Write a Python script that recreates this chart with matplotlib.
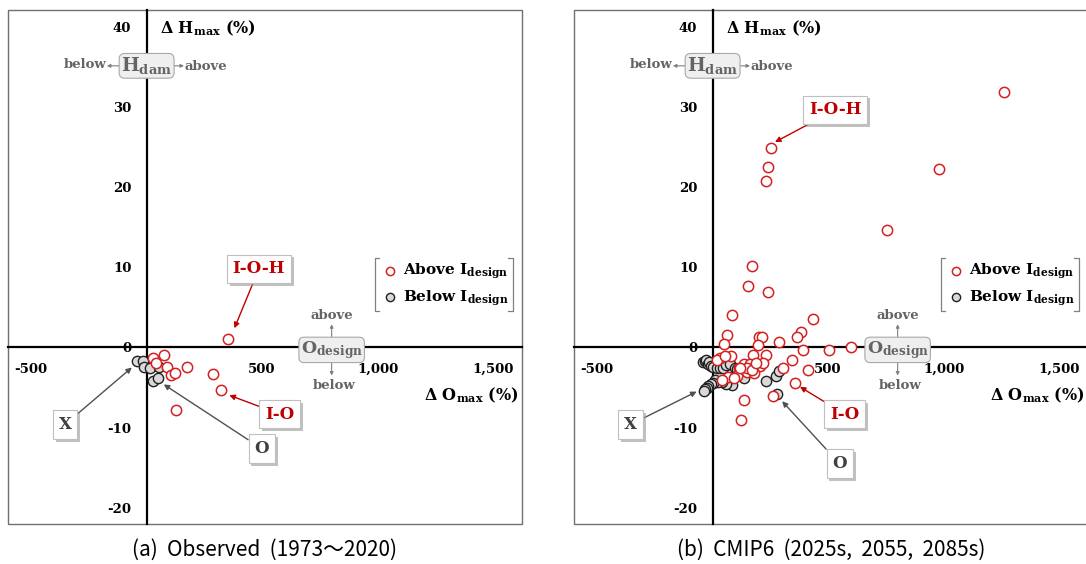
import numpy as np
import matplotlib
matplotlib.use("Agg")
import matplotlib.pyplot as plt
import matplotlib.patheffects as pe
from matplotlib.patches import Rectangle
from matplotlib.lines import Line2D
from matplotlib.ticker import FuncFormatter

plt.rcParams['mathtext.fontset'] = 'dejavuserif'

# ---- data ----
obs_above_x = [353, 29, 40, 76, 87, 105, 122, 177, 288, 320, 127]
obs_above_y = [1.0, -1.3, -1.9, -0.9, -2.4, -3.45, -3.2, -2.4, -3.25, -5.3, -7.8]
obs_below_x = [-41, -17, -10, 14, 55, 26, 50]
obs_below_y = [-1.7, -1.7, -2.4, -2.5, -2.4, -4.2, -3.75]

cmip_above_x = [1262, 981, 756, 254, 241, 231, 169, 155, 240, 84, 433, 382, 364, 61, 50,
                200, 212, 197, 288, 392, 505, 600, 176, 231, 78, 32, 17, 115, 135, 161,
                205, 147, 342, 306, 414, 180, 104, 68, 39, 94, 356, 135, 260, 125,
                55, 150, 170, 220, 118, 190]
cmip_above_y = [31.8, 22.3, 14.7, 24.9, 22.5, 20.7, 10.2, 7.6, 6.9, 4.1, 3.6, 1.95, 1.25, 1.5, 0.4,
                1.3, 1.25, 0.3, 0.7, -0.3, -0.3, 0.0, -0.95, -0.95, -1.0, -1.3, -1.6, -2.6, -2.0, -2.1,
                -2.3, -3.0, -1.6, -2.5, -2.75, -3.2, -3.6, -3.7, -4.1, -3.75, -4.4, -6.5, -6.1, -9.1,
                -1.1, -2.5, -2.8, -1.9, -2.6, -1.9]
cmip_below_x = [-43, -35, -29, -22, -15, -5, 3, 17, 30, 46, 60, 75, 95, 104, 125, 135,
                82, 60, 40, 24, 10, 3, -9, -18, -26, -33, -38, 229, 274, 286, 280]
cmip_below_y = [-1.8, -1.7, -1.6, -2.0, -1.8, -2.3, -2.4, -2.6, -2.5, -2.6, -2.2, -2.0, -2.6, -2.7, -3.4, -3.8,
                -4.7, -4.5, -4.3, -4.3, -4.1, -4.4, -4.5, -4.8, -5.0, -5.2, -5.4, -4.2, -3.6, -2.9, -5.8]

x_ticks = [-500, 0, 500, 1000, 1500]
y_ticks = [-20, -10, 0, 10, 20, 30, 40]
captions = ["(a)  Observed  (1973～2020)", "(b)  CMIP6  (2025s,  2055,  2085s)"]

RED = '#D42020'
DARK_RED = '#C00000'
GRAY_TXT = '#646464'
SERIF = 'DejaVu Serif'

fig = plt.figure(figsize=(10.86, 5.64), dpi=100)
W, H = 1086, 564
ax1 = fig.add_axes([8 / W, 40 / H, 514 / W, 514 / H])
ax2 = fig.add_axes([574 / W, 40 / H, 514 / W, 514 / H])


def label_box(ax, txt, xy, xytext, color, acolor):
    a = ax.annotate(txt, xy=xy, xytext=xytext, ha='center', va='center',
                    fontsize=12, fontweight='bold', family=SERIF, color=color,
                    bbox=dict(boxstyle='square,pad=0.35', fc='white', ec='#BFBFBF', lw=0.8),
                    arrowprops=dict(arrowstyle='-|>', color=acolor, lw=1.0,
                                    mutation_scale=8, shrinkA=0, shrinkB=0),
                    zorder=6)
    a.get_bbox_patch().set_path_effects([pe.withSimplePatchShadow(offset=(2, -2),
                                                                  shadow_rgbFace='#999999',
                                                                  alpha=0.6)])
    return a


def setup(ax, ax_x, ax_y, bx_x, bx_y, cap, ann):
    ax.set_xlim(-600, 1625)
    ax.set_ylim(-22.0, 42.06)
    for s in ['top', 'right']:
        ax.spines[s].set_visible(False)
    for s in ['left', 'bottom']:
        ax.spines[s].set_position(('data', 0))
        ax.spines[s].set_linewidth(1.6)
        ax.spines[s].set_color('black')
        ax.spines[s].set_zorder(2)
    ax.add_patch(Rectangle((0, 0), 1, 1, transform=ax.transAxes, fill=False,
                           ec='#707070', lw=1.0, clip_on=False, zorder=1))
    ax.set_xticks(x_ticks)
    ax.set_yticks(y_ticks)
    ax.xaxis.set_major_formatter(FuncFormatter(lambda v, p: f"{int(v):,}"))
    ax.yaxis.set_major_formatter(FuncFormatter(lambda v, p: f"{int(v)}"))
    ax.tick_params(axis='x', length=0, pad=11)
    ax.tick_params(axis='y', length=0, pad=11)
    for lab in ax.get_xticklabels() + ax.get_yticklabels():
        lab.set_family(SERIF)
        lab.set_fontweight('bold')
        lab.set_fontsize(9.5)

    above = ax.scatter(ax_x, ax_y, s=55, facecolors='white', edgecolors=RED,
                       linewidths=1.1, zorder=4)
    below = ax.scatter(bx_x, bx_y, s=55, facecolors='#D9D9D9', edgecolors='#202020',
                       linewidths=1.0, zorder=3)

    # axis titles
    ax.text(58, 39.8, "Δ H$_\\mathbf{max}$ (%)", ha='left', va='center',
            family=SERIF, fontweight='bold', fontsize=11.5)
    ax.text(1612, -5.95, "Δ O$_\\mathbf{max}$ (%)", ha='right', va='center',
            family=SERIF, fontweight='bold', fontsize=11.5)

    # H_dam indicator
    ax.text(0, 35.1, "H$_\\mathbf{dam}$", ha='center', va='center', family=SERIF,
            fontweight='bold', fontsize=13.5, color=GRAY_TXT, zorder=6,
            bbox=dict(boxstyle='round,pad=0.1,rounding_size=0.3', fc='#EFEFEF', ec='#A8A8A8', lw=0.8))
    ax.annotate("", xy=(-172, 35.1), xytext=(-102, 35.1),
                arrowprops=dict(arrowstyle='-|>', color='#808080', lw=0.8, mutation_scale=5,
                                shrinkA=0, shrinkB=0))
    ax.annotate("", xy=(162, 35.1), xytext=(96, 35.1),
                arrowprops=dict(arrowstyle='-|>', color='#808080', lw=0.8, mutation_scale=5,
                                shrinkA=0, shrinkB=0))
    ax.text(-268, 35.3, "below", ha='center', va='center', family=SERIF,
            fontweight='bold', fontsize=9.5, color=GRAY_TXT)
    ax.text(258, 35.0, "above", ha='center', va='center', family=SERIF,
            fontweight='bold', fontsize=9.5, color=GRAY_TXT)

    # O_design indicator
    ax.text(801, -0.3, "O$_\\mathbf{design}$", ha='center', va='center', family=SERIF,
            fontweight='bold', fontsize=12.5, color=GRAY_TXT, zorder=6,
            bbox=dict(boxstyle='round,pad=0.1,rounding_size=0.3', fc='#EFEFEF', ec='#A8A8A8', lw=0.8))
    ax.annotate("", xy=(801, 2.9), xytext=(801, 1.2),
                arrowprops=dict(arrowstyle='-|>', color='#808080', lw=0.8, mutation_scale=5,
                                shrinkA=0, shrinkB=0))
    ax.annotate("", xy=(801, -3.5), xytext=(801, -1.8),
                arrowprops=dict(arrowstyle='-|>', color='#808080', lw=0.8, mutation_scale=5,
                                shrinkA=0, shrinkB=0))
    ax.text(800, 4.0, "above", ha='center', va='center', family=SERIF,
            fontweight='bold', fontsize=9.5, color=GRAY_TXT)
    ax.text(810, -4.8, "below", ha='center', va='center', family=SERIF,
            fontweight='bold', fontsize=9.5, color=GRAY_TXT)

    # legend with bracket frame
    leg = ax.legend([above, below], ["Above I$_\\mathbf{design}$", "Below I$_\\mathbf{design}$"],
                    loc='center', bbox_to_anchor=(1290, 7.8), bbox_transform=ax.transData,
                    frameon=False, handletextpad=0.2, labelspacing=0.45, borderpad=0,
                    handlelength=1.2, markerscale=0.8,
                    prop=dict(family=SERIF, weight='bold', size=11))
    for xb, xt in [(988, 1008), (1584, 1564)]:
        ax.add_line(Line2D([xt, xb, xb, xt], [11.13, 11.13, 4.5, 4.5], color='#808080', lw=0.9))

    for txt, xy, xytext, c, ac in ann:
        label_box(ax, txt, xy, xytext, c, ac)

    ax.text(0.5, -0.05, cap, transform=ax.transAxes, ha='center', va='center',
            family=['Noto Sans CJK KR', 'DejaVu Sans'], fontsize=15)


setup(ax1, obs_above_x, obs_above_y, obs_below_x, obs_below_y, captions[0],
      [("I-O-H", (380, 2.4), (486, 9.8), DARK_RED, DARK_RED),
       ("I-O", (358, -5.95), (576, -8.3), DARK_RED, DARK_RED),
       ("O", (74, -4.6), (498, -12.6), '#404040', '#505050'),
       ("X", (-64, -2.5), (-353, -9.6), '#404040', '#505050')])
setup(ax2, cmip_above_x, cmip_above_y, cmip_below_x, cmip_below_y, captions[1],
      [("I-O-H", (270, 25.6), (531, 29.6), DARK_RED, DARK_RED),
       ("I-O", (378, -4.9), (571, -8.3), DARK_RED, DARK_RED),
       ("O", (301, -6.7), (550, -14.5), '#404040', '#505050'),
       ("X", (-69, -5.5), (-355, -9.6), '#404040', '#505050')])

fig.savefig("out.png", dpi=100)
